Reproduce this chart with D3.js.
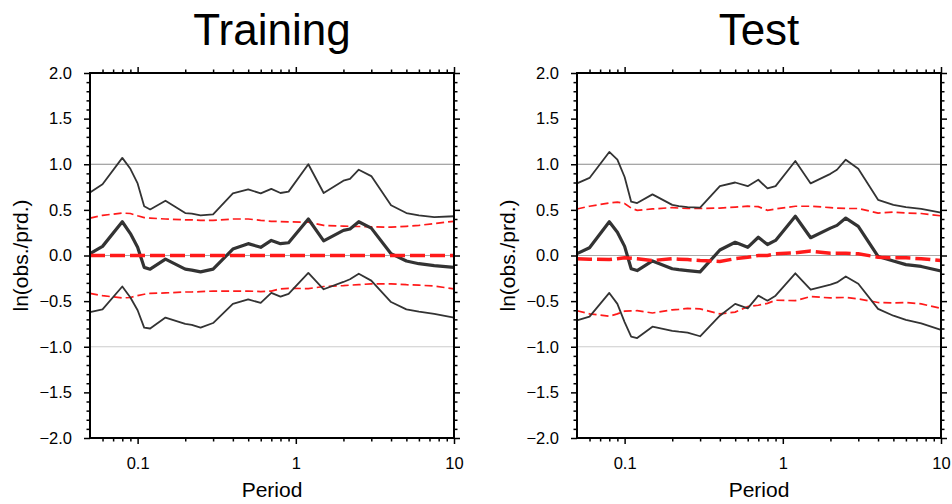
<!DOCTYPE html>
<html>
<head>
<meta charset="utf-8">
<script src="https://cdn.jsdelivr.net/npm/d3@7"></script>
<style>
  body { margin: 0; background: #fff; }
  svg { display: block; font-family: "Liberation Sans", Arial, Helvetica, sans-serif; }
</style>
</head>
<body>
<div id="chart"></div>
<script>
// periods (s) at which residuals were computed
var periods = [0.05, 0.06, 0.08, 0.09, 0.1, 0.11, 0.12, 0.15, 0.2, 0.22, 0.25, 0.3, 0.4, 0.5, 0.6, 0.7,
  0.8, 0.9, 1.2, 1.5, 2.0, 2.2, 2.5, 3.0, 4.0, 5.0, 6.0, 7.5, 10];

// Training panel
var trainMean = [0.02, 0.10, 0.37, 0.24, 0.09, -0.13, -0.15, -0.04, -0.15, -0.16, -0.18, -0.15, 0.07, 0.13, 0.09, 0.165,
  0.13, 0.14, 0.40, 0.16, 0.275, 0.29, 0.37, 0.30, 0.02, -0.06, -0.09, -0.11, -0.13];
var trainUpper = [0.69, 0.78, 1.07, 0.95, 0.79, 0.54, 0.505, 0.60, 0.465, 0.46, 0.44, 0.45, 0.68, 0.725, 0.68, 0.73,
  0.685, 0.70, 1.0, 0.685, 0.82, 0.84, 0.94, 0.87, 0.55, 0.465, 0.44, 0.42, 0.43];
var trainLower = [-0.62, -0.59, -0.34, -0.46, -0.60, -0.79, -0.80, -0.68, -0.75, -0.76, -0.79, -0.74, -0.53, -0.48, -0.52, -0.41,
  -0.45, -0.42, -0.19, -0.37, -0.29, -0.26, -0.20, -0.275, -0.51, -0.59, -0.615, -0.64, -0.68];
var trainModelMean = [0, 0, 0, 0, 0, 0, 0, 0, 0, 0, 0, 0, 0, 0, 0, 0,
  0, 0, 0, 0, 0, 0, 0, 0, 0, 0, 0, 0, 0];
var trainModelUpper = [0.41, 0.44, 0.465, 0.46, 0.435, 0.415, 0.41, 0.40, 0.39, 0.39, 0.385, 0.385, 0.40, 0.40, 0.385, 0.375,
  0.372, 0.368, 0.366, 0.33, 0.322, 0.32, 0.318, 0.315, 0.31, 0.32, 0.33, 0.35, 0.375];
var trainModelLower = [-0.415, -0.44, -0.465, -0.46, -0.44, -0.425, -0.415, -0.41, -0.40, -0.40, -0.396, -0.39, -0.39, -0.39, -0.395, -0.39,
  -0.365, -0.36, -0.363, -0.34, -0.33, -0.325, -0.32, -0.31, -0.31, -0.32, -0.325, -0.335, -0.365];

// Test panel
var testMean = [0.02, 0.085, 0.37, 0.255, 0.10, -0.145, -0.165, -0.06, -0.145, -0.155, -0.165, -0.18, 0.06, 0.145, 0.09, 0.20,
  0.12, 0.165, 0.43, 0.195, 0.30, 0.33, 0.41, 0.32, -0.01, -0.06, -0.10, -0.12, -0.17];
var testUpper = [0.79, 0.85, 1.135, 1.05, 0.86, 0.59, 0.575, 0.67, 0.555, 0.54, 0.53, 0.525, 0.76, 0.80, 0.76, 0.83,
  0.735, 0.76, 1.035, 0.79, 0.895, 0.94, 1.05, 0.95, 0.61, 0.555, 0.53, 0.51, 0.47];
var testLower = [-0.71, -0.67, -0.41, -0.53, -0.73, -0.89, -0.905, -0.78, -0.825, -0.835, -0.845, -0.885, -0.66, -0.53, -0.58, -0.44,
  -0.495, -0.44, -0.195, -0.375, -0.32, -0.295, -0.23, -0.31, -0.585, -0.66, -0.705, -0.745, -0.815];
var testModelMean = [-0.035, -0.04, -0.045, -0.035, -0.025, -0.03, -0.035, -0.055, -0.035, -0.04, -0.045, -0.055, -0.065, -0.035, -0.02, 0.0,
  0.0, 0.02, 0.03, 0.048, 0.026, 0.026, 0.026, 0.018, -0.018, -0.025, -0.026, -0.035, -0.055];
var testModelUpper = [0.51, 0.54, 0.575, 0.585, 0.57, 0.52, 0.495, 0.51, 0.525, 0.52, 0.515, 0.515, 0.52, 0.53, 0.54, 0.535,
  0.495, 0.51, 0.54, 0.54, 0.525, 0.52, 0.515, 0.515, 0.465, 0.475, 0.465, 0.46, 0.435];
var testModelLower = [-0.605, -0.64, -0.665, -0.64, -0.61, -0.606, -0.605, -0.63, -0.595, -0.59, -0.58, -0.585, -0.64, -0.62, -0.56, -0.545,
  -0.525, -0.49, -0.495, -0.45, -0.465, -0.462, -0.46, -0.475, -0.515, -0.52, -0.515, -0.53, -0.58];

// axis ticks
var xMajorTicks = [0.1, 1, 10];
var xMinorTicks = [0.06, 0.07, 0.08, 0.09, 0.2, 0.3, 0.4, 0.5, 0.6, 0.7, 0.8, 0.9, 2, 3, 4, 5, 6, 7, 8, 9];
var xTickLabels = ['0.1', '1', '10'];
var yMajorTicks = [-2, -1.5, -1, -0.5, 0, 0.5, 1, 1.5, 2];
var yMinorTicks = [-1.9, -1.8, -1.7, -1.6, -1.4, -1.3, -1.2, -1.1, -0.9, -0.8, -0.7, -0.6, -0.4, -0.3, -0.2, -0.1,
  0.1, 0.2, 0.3, 0.4, 0.6, 0.7, 0.8, 0.9, 1.1, 1.2, 1.3, 1.4, 1.6, 1.7, 1.8, 1.9];
var refLines = [1, 0, -1];
var refColors = ['#8a8a8a', '#a8a8a8', '#cccccc'];

var panels = [
  { title: 'Training', left: 90, mean: trainMean, upper: trainUpper, lower: trainLower,
    mMean: trainModelMean, mUpper: trainModelUpper, mLower: trainModelLower },
  { title: 'Test', left: 577, mean: testMean, upper: testUpper, lower: testLower,
    mMean: testModelMean, mUpper: testModelUpper, mLower: testModelLower }
];

var svg = d3.select('#chart').append('svg')
  .attr('width', 952)
  .attr('height', 504);

svg.append('rect').attr('width', 952).attr('height', 504).attr('fill', '#fff');

var plotTop = 73, plotH = 365, plotW = 364;

panels.forEach(function(p) {
  var x = d3.scaleLog().domain([0.05, 10]).range([0, plotW]);
  var y = d3.scaleLinear().domain([-2, 2]).range([plotH, 0]);

  var g = svg.append('g').attr('transform', 'translate(' + p.left + ',' + plotTop + ')');

  // reference lines
  g.selectAll('.ref')
    .data(refLines)
    .enter().append('line')
      .attr('class', 'ref')
      .attr('x1', 0).attr('x2', plotW)
      .attr('y1', function(d) { return y(d); })
      .attr('y2', function(d) { return y(d); })
      .attr('stroke', function(d, i) { return refColors[i]; })
      .attr('stroke-width', 1.2);

  var line = function(vals) {
    return d3.line()
      .x(function(d, i) { return x(periods[i]); })
      .y(function(d) { return y(d); })(vals);
  };

  // model +/- sigma (red thin dashed)
  [p.mUpper, p.mLower].forEach(function(s) {
    g.append('path').attr('d', line(s))
      .attr('fill', 'none').attr('stroke', '#ff1a1a')
      .attr('stroke-width', 1.7).attr('stroke-dasharray', '8,4');
  });

  // mean +/- std (dark thin)
  [p.upper, p.lower].forEach(function(s) {
    g.append('path').attr('d', line(s))
      .attr('fill', 'none').attr('stroke', '#333')
      .attr('stroke-width', 1.8).attr('stroke-linejoin', 'round');
  });

  // mean residual (dark thick)
  g.append('path').attr('d', line(p.mean))
    .attr('fill', 'none').attr('stroke', '#333')
    .attr('stroke-width', 3.2).attr('stroke-linejoin', 'round');

  // model mean (red thick dashed)
  g.append('path').attr('d', line(p.mMean))
    .attr('fill', 'none').attr('stroke', '#ff1a1a')
    .attr('stroke-width', 3.5).attr('stroke-dasharray', '15,5');

  // axes: major + minor ticks, outward on all four sides
  var axStyle = function(sel) {
    sel.selectAll('.domain').remove();
    sel.selectAll('.tick line').attr('stroke', '#000').attr('stroke-width', 1.5);
    sel.selectAll('text').attr('font-size', 16.5).attr('fill', '#000')
      .attr('font-family', '"Liberation Sans", Arial, sans-serif');
  };

  g.append('g').attr('transform', 'translate(0,' + plotH + ')')
    .call(d3.axisBottom(x).tickValues(xMajorTicks).tickSize(6).tickPadding(13)
      .tickFormat(function(d, i) { return xTickLabels[i]; }))
    .call(axStyle);
  g.append('g').attr('transform', 'translate(0,' + plotH + ')')
    .call(d3.axisBottom(x).tickValues(xMinorTicks).tickSize(3.5).tickFormat(''))
    .call(axStyle);
  g.append('g')
    .call(d3.axisTop(x).tickValues(xMajorTicks).tickSize(6).tickFormat(''))
    .call(axStyle);
  g.append('g')
    .call(d3.axisTop(x).tickValues(xMinorTicks).tickSize(3.5).tickFormat(''))
    .call(axStyle);

  g.append('g')
    .call(d3.axisLeft(y).tickValues(yMajorTicks).tickSize(6).tickPadding(12).tickFormat(d3.format('.1f')))
    .call(axStyle);
  g.append('g')
    .call(d3.axisLeft(y).tickValues(yMinorTicks).tickSize(3.5).tickFormat(''))
    .call(axStyle);
  g.append('g').attr('transform', 'translate(' + plotW + ',0)')
    .call(d3.axisRight(y).tickValues(yMajorTicks).tickSize(6).tickFormat(''))
    .call(axStyle);
  g.append('g').attr('transform', 'translate(' + plotW + ',0)')
    .call(d3.axisRight(y).tickValues(yMinorTicks).tickSize(3.5).tickFormat(''))
    .call(axStyle);

  // frame
  g.append('rect')
    .attr('width', plotW).attr('height', plotH)
    .attr('fill', 'none').attr('stroke', '#000').attr('stroke-width', 2);

  // titles and labels
  g.append('text')
    .attr('x', plotW / 2).attr('y', -28)
    .attr('text-anchor', 'middle')
    .attr('font-size', 44)
    .text(p.title);

  g.append('text')
    .attr('x', plotW / 2).attr('y', plotH + 59)
    .attr('text-anchor', 'middle')
    .attr('font-size', 21)
    .text('Period');

  g.append('text')
    .attr('transform', 'translate(-62,' + (plotH / 2) + ') rotate(-90)')
    .attr('text-anchor', 'middle')
    .attr('font-size', 21)
    .text('ln(obs./prd.)');
});
</script>
</body>
</html>
